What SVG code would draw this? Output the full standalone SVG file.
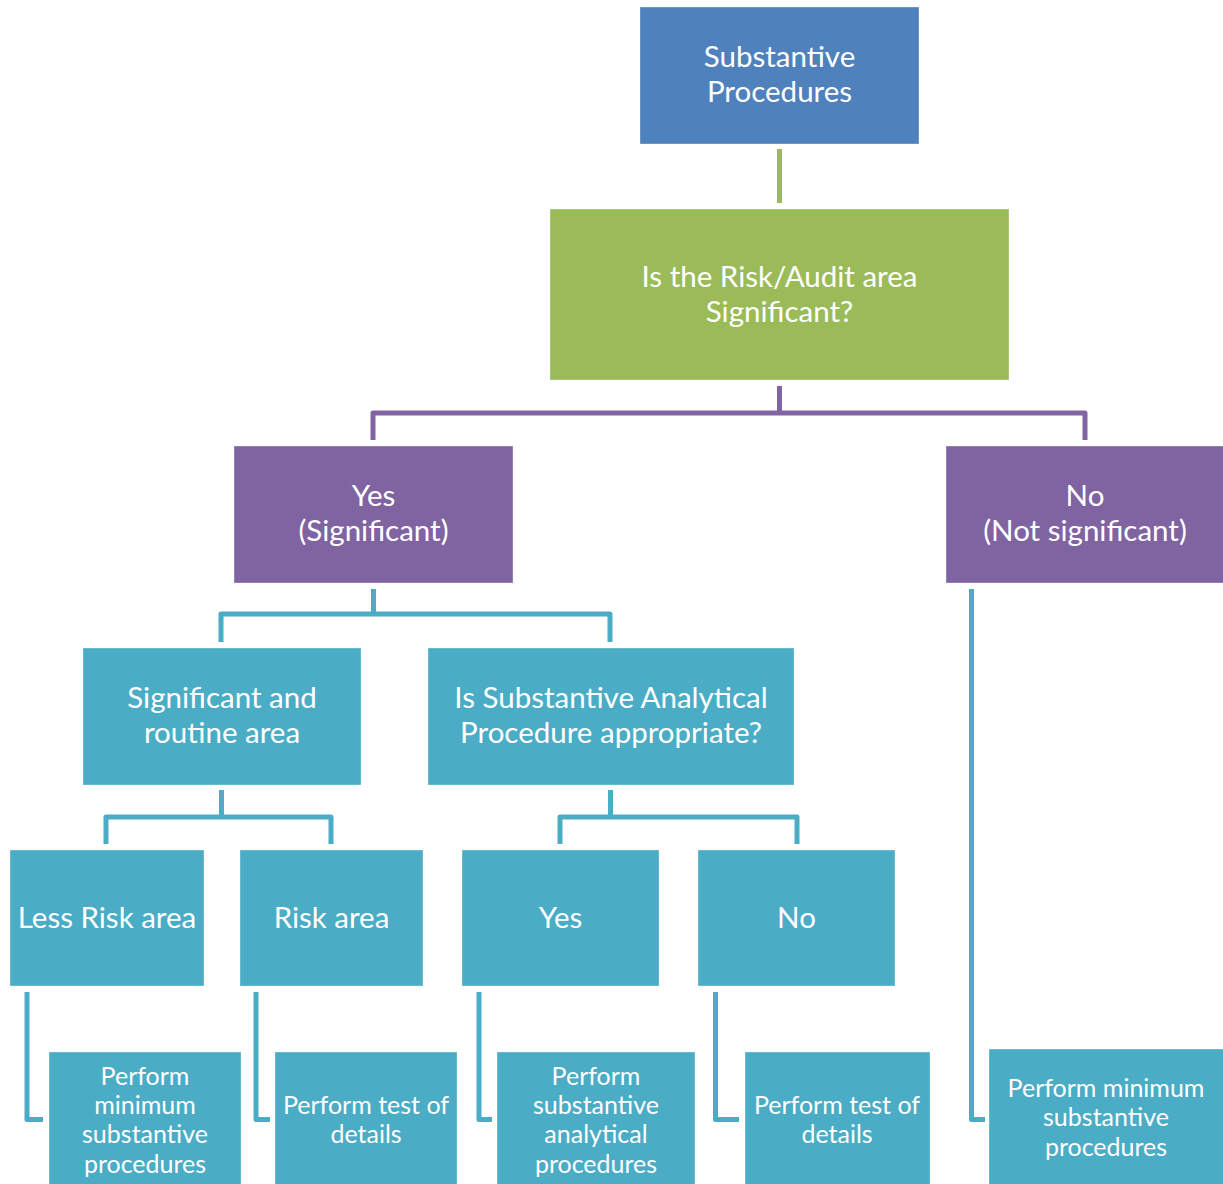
<svg xmlns="http://www.w3.org/2000/svg" width="1223" height="1184" viewBox="0 0 1223 1184">
  <style>
    .box { stroke: #ffffff; stroke-opacity: 0.35; stroke-width: 1; }
    .blue { fill: #4F81BD; }
    .green { fill: #9BBB59; }
    .purple { fill: #8064A2; }
    .teal { fill: #4BACC6; }
    .lbl { font-family: Lato, "Liberation Sans", sans-serif; fill: #ffffff; text-anchor: middle; font-size: 29.5px; }
    .sm { font-size: 25px; }
    .wire { fill: none; stroke-width: 5; stroke-linejoin: round; stroke-linecap: butt; }
    .w-green { stroke: #9BBB59; }
    .w-purple { stroke: #8064A2; }
    .w-teal { stroke: #4BACC6; }
  </style>
  <rect width="1223" height="1184" fill="#ffffff"/>

  <!-- connectors -->
  <g id="connectors">
    <path class="wire w-green" d="M779.5 149 V203"/>
    <path class="wire w-purple" d="M779.5 386 V413 M373 440 V413 H1085 V440"/>
    <path class="wire w-teal" d="M373.5 589 V614 M221 642 V614 H610 V642"/>
    <path class="wire w-teal" d="M221.5 790 V817 M106 844 V817 H331 V844"/>
    <path class="wire w-teal" d="M610.5 790 V817 M560 844 V817 H797 V844"/>
    <path class="wire w-teal" d="M27 992 V1119.5 H43"/>
    <path class="wire w-teal" d="M256 992 V1119.5 H270"/>
    <path class="wire w-teal" d="M479 992 V1119.5 H492"/>
    <path class="wire w-teal" d="M715.5 992 V1119.5 H739"/>
    <path class="wire w-teal" d="M971.5 589 V1119.5 H985"/>
  </g>

  <!-- root -->
  <g id="node-substantive">
    <rect class="box blue" x="640" y="7" width="279" height="137"/>
    <text class="lbl" x="779.5" y="67">Substantive</text>
    <text class="lbl" x="779.5" y="102">Procedures</text>
  </g>

  <g id="node-significant-q">
    <rect class="box green" x="550" y="209" width="459" height="171"/>
    <text class="lbl" x="779.5" y="287">Is the Risk/Audit area</text>
    <text class="lbl" x="779.5" y="322">Significant?</text>
  </g>

  <g id="node-yes-significant">
    <rect class="box purple" x="234" y="446" width="279" height="137"/>
    <text class="lbl" x="373.5" y="506">Yes</text>
    <text class="lbl" x="373.5" y="541">(Significant)</text>
  </g>

  <g id="node-not-significant">
    <rect class="box purple" x="946" y="446" width="279" height="137"/>
    <text class="lbl" x="1085" y="506">No</text>
    <text class="lbl" x="1085" y="541">(Not significant)</text>
  </g>

  <g id="node-routine-area">
    <rect class="box teal" x="83" y="648" width="278" height="137"/>
    <text class="lbl" x="222" y="708">Significant and</text>
    <text class="lbl" x="222" y="743">routine area</text>
  </g>

  <g id="node-sap-q">
    <rect class="box teal" x="428" y="648" width="366" height="137"/>
    <text class="lbl" x="611" y="708">Is Substantive Analytical</text>
    <text class="lbl" x="611" y="743">Procedure appropriate?</text>
  </g>

  <g id="node-less-risk">
    <rect class="box teal" x="10" y="850" width="194" height="136"/>
    <text class="lbl" x="107" y="928">Less Risk area</text>
  </g>

  <g id="node-risk">
    <rect class="box teal" x="240" y="850" width="183" height="136"/>
    <text class="lbl" x="331.5" y="928">Risk area</text>
  </g>

  <g id="node-sap-yes">
    <rect class="box teal" x="462" y="850" width="197" height="136"/>
    <text class="lbl" x="560.5" y="928">Yes</text>
  </g>

  <g id="node-sap-no">
    <rect class="box teal" x="698" y="850" width="197" height="136"/>
    <text class="lbl" x="796.5" y="928">No</text>
  </g>

  <g id="node-min-1">
    <rect class="box teal" x="49" y="1052" width="192" height="140"/>
    <text class="lbl sm" x="145" y="1085">Perform</text>
    <text class="lbl sm" x="145" y="1114">minimum</text>
    <text class="lbl sm" x="145" y="1143">substantive</text>
    <text class="lbl sm" x="145" y="1173">procedures</text>
  </g>

  <g id="node-tod-1">
    <rect class="box teal" x="275" y="1052" width="182" height="140"/>
    <text class="lbl sm" x="366" y="1114">Perform test of</text>
    <text class="lbl sm" x="366" y="1143">details</text>
  </g>

  <g id="node-sap-perform">
    <rect class="box teal" x="497" y="1052" width="198" height="140"/>
    <text class="lbl sm" x="596" y="1085">Perform</text>
    <text class="lbl sm" x="596" y="1114">substantive</text>
    <text class="lbl sm" x="596" y="1143">analytical</text>
    <text class="lbl sm" x="596" y="1173">procedures</text>
  </g>

  <g id="node-tod-2">
    <rect class="box teal" x="745" y="1052" width="185" height="140"/>
    <text class="lbl sm" x="837" y="1114">Perform test of</text>
    <text class="lbl sm" x="837" y="1143">details</text>
  </g>

  <g id="node-min-2">
    <rect class="box teal" x="989" y="1049" width="236" height="143"/>
    <text class="lbl sm" x="1106" y="1097">Perform minimum</text>
    <text class="lbl sm" x="1106" y="1126">substantive</text>
    <text class="lbl sm" x="1106" y="1156">procedures</text>
  </g>
</svg>
